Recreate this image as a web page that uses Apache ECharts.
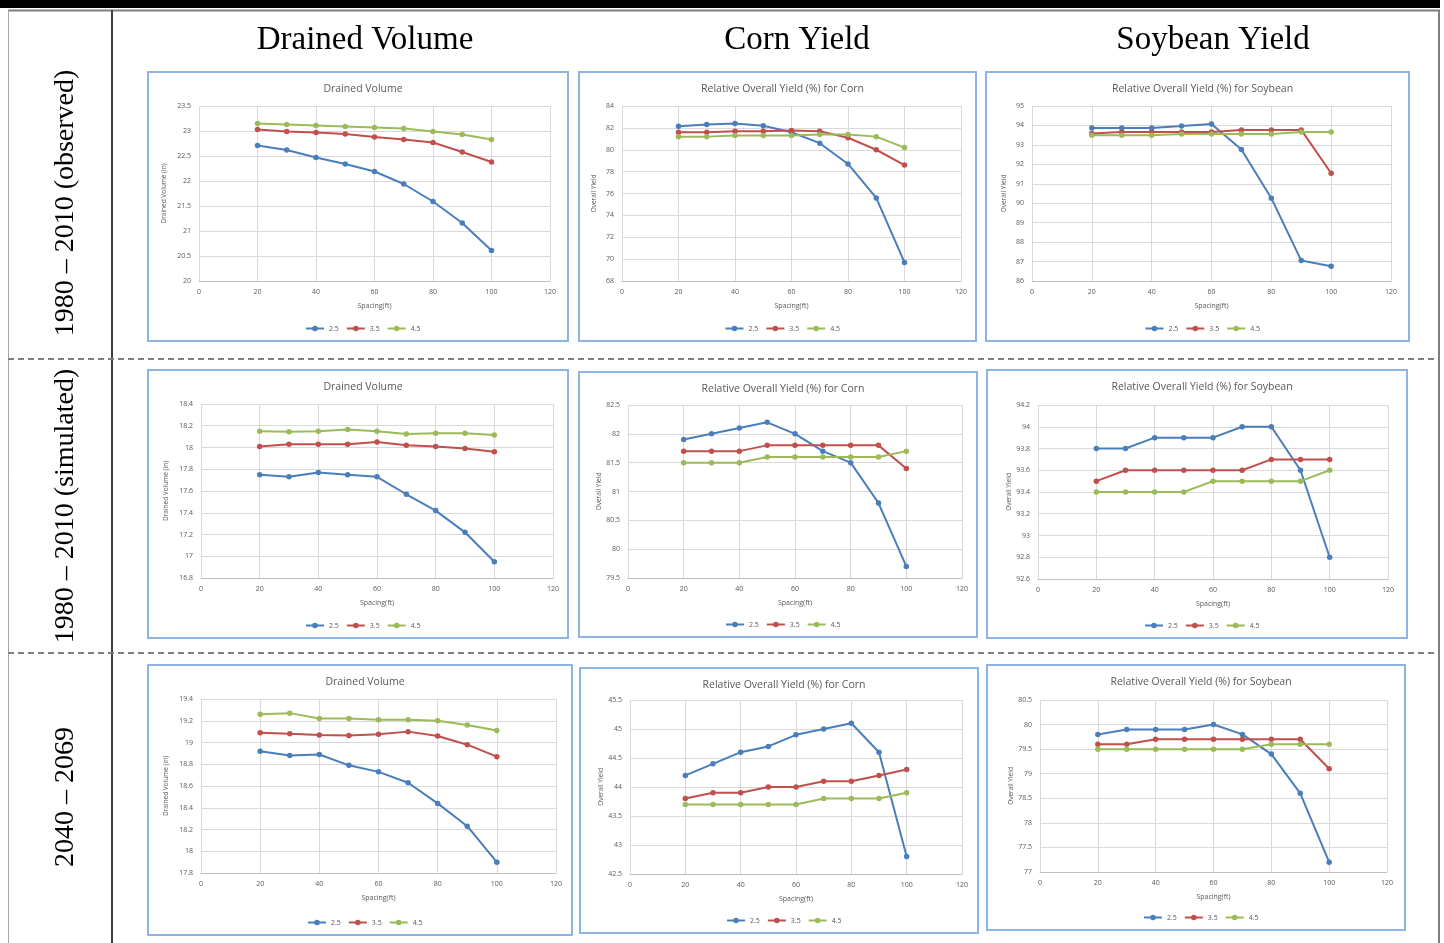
<!DOCTYPE html>
<html>
<head>
<meta charset="utf-8">
<script src="https://cdn.jsdelivr.net/npm/echarts@6/dist/echarts.min.js"></script>
<style>
html,body{margin:0;padding:0;background:#fff;}
#main{width:1444px;height:943px;}
</style>
</head>
<body>
<div id="main"></div>
<script>
// ---------- data ----------
const spacing = [20, 30, 40, 50, 60, 70, 80, 90, 100];
const depthNames = ['2.5', '3.5', '4.5'];
const colHeaders = ['Drained Volume', 'Corn Yield', 'Soybean Yield'];
const rowLabels = ['1980 – 2010 (observed)', '1980 – 2010 (simulated)', '2040 – 2069'];
const panelTitles = ['Drained Volume', 'Relative Overall Yield (%) for Corn', 'Relative Overall Yield (%) for Soybean'];
const yNames = ['Drained Volume (in)', 'Overall Yield', 'Overall Yield'];
const xName = 'Spacing(ft)';

// Row 1: 1980-2010 observed
const obsDrained25 = [22.71, 22.62, 22.47, 22.34, 22.19, 21.94, 21.59, 21.16, 20.61];
const obsDrained35 = [23.03, 22.99, 22.97, 22.94, 22.88, 22.83, 22.77, 22.58, 22.38];
const obsDrained45 = [23.15, 23.13, 23.11, 23.09, 23.07, 23.05, 22.99, 22.93, 22.83];
const obsCorn25 = [82.15, 82.3, 82.4, 82.2, 81.6, 80.6, 78.7, 75.6, 69.7];
const obsCorn35 = [81.6, 81.6, 81.7, 81.7, 81.75, 81.7, 81.1, 80.0, 78.6];
const obsCorn45 = [81.2, 81.2, 81.3, 81.3, 81.3, 81.4, 81.4, 81.2, 80.2];
const obsSoy25 = [93.87, 93.87, 93.87, 93.97, 94.08, 92.76, 90.26, 87.05, 86.76];
const obsSoy35 = [93.58, 93.66, 93.66, 93.66, 93.66, 93.77, 93.77, 93.77, 91.54];
const obsSoy45 = [93.49, 93.49, 93.49, 93.56, 93.56, 93.56, 93.56, 93.66, 93.66];

// Row 2: 1980-2010 simulated
const simDrained25 = [17.75, 17.73, 17.77, 17.75, 17.73, 17.57, 17.42, 17.22, 16.95];
const simDrained35 = [18.01, 18.03, 18.03, 18.03, 18.05, 18.02, 18.01, 17.99, 17.96];
const simDrained45 = [18.15, 18.145, 18.15, 18.165, 18.15, 18.125, 18.13, 18.13, 18.115];
const simCorn25 = [81.9, 82.0, 82.1, 82.2, 82.0, 81.7, 81.5, 80.8, 79.7];
const simCorn35 = [81.7, 81.7, 81.7, 81.8, 81.8, 81.8, 81.8, 81.8, 81.4];
const simCorn45 = [81.5, 81.5, 81.5, 81.6, 81.6, 81.6, 81.6, 81.6, 81.7];
const simSoy25 = [93.8, 93.8, 93.9, 93.9, 93.9, 94.0, 94.0, 93.6, 92.8];
const simSoy35 = [93.5, 93.6, 93.6, 93.6, 93.6, 93.6, 93.7, 93.7, 93.7];
const simSoy45 = [93.4, 93.4, 93.4, 93.4, 93.5, 93.5, 93.5, 93.5, 93.6];

// Row 3: 2040-2069
const futDrained25 = [18.92, 18.88, 18.89, 18.79, 18.73, 18.63, 18.44, 18.23, 17.90];
const futDrained35 = [19.09, 19.08, 19.07, 19.065, 19.075, 19.10, 19.06, 18.98, 18.87];
const futDrained45 = [19.26, 19.27, 19.22, 19.22, 19.21, 19.21, 19.20, 19.16, 19.11];
const futCorn25 = [44.2, 44.4, 44.6, 44.7, 44.9, 45.0, 45.1, 44.6, 42.8];
const futCorn35 = [43.8, 43.9, 43.9, 44.0, 44.0, 44.1, 44.1, 44.2, 44.3];
const futCorn45 = [43.7, 43.7, 43.7, 43.7, 43.7, 43.8, 43.8, 43.8, 43.9];
const futSoy25 = [79.8, 79.9, 79.9, 79.9, 80.0, 79.8, 79.4, 78.6, 77.2];
const futSoy35 = [79.6, 79.6, 79.7, 79.7, 79.7, 79.7, 79.7, 79.7, 79.1];
const futSoy45 = [79.5, 79.5, 79.5, 79.5, 79.5, 79.5, 79.6, 79.6, 79.6];

// y-axis ranges [min, max, interval]
const yRanges = [
  [[20, 23.5, 0.5], [68, 84, 2], [86, 95, 1]],
  [[16.8, 18.4, 0.2], [79.5, 82.5, 0.5], [92.6, 94.2, 0.2]],
  [[17.8, 19.4, 0.2], [42.5, 45.5, 0.5], [77, 80.5, 0.5]]
];
const seriesSets = [
  [[obsDrained25, obsDrained35, obsDrained45], [obsCorn25, obsCorn35, obsCorn45], [obsSoy25, obsSoy35, obsSoy45]],
  [[simDrained25, simDrained35, simDrained45], [simCorn25, simCorn35, simCorn45], [simSoy25, simSoy35, simSoy45]],
  [[futDrained25, futDrained35, futDrained45], [futCorn25, futCorn35, futCorn45], [futSoy25, futSoy35, futSoy45]]
];

// ---------- layout (pixels) ----------
const panelBoxes = [
  [[148, 72, 568, 341], [579, 72, 976, 341], [986, 72, 1409, 341]],
  [[148, 370, 568, 638], [579, 372, 977, 637], [987, 370, 1407, 638]],
  [[148, 665, 572, 935], [580, 668, 978, 933], [987, 665, 1405, 930]]
];
// x0 (value 0), x120, yTop, yBottom
const gridBoxes = [
  [[199, 550, 106, 281], [622, 961, 106, 281], [1032, 1391, 106, 281]],
  [[201, 553, 404, 578], [628, 962, 405, 578], [1038, 1388, 405, 579]],
  [[201, 556, 699, 873], [630, 962, 700, 874], [1040, 1387, 700, 872]]
];
const colors = ['#4a7ebb', '#c0504d', '#9bbb59'];
const txt = '#595959';
const sans = '"Open Sans", "Noto Sans", sans-serif';

const grids = [], xAxes = [], yAxes = [], series = [], titles = [], legends = [], graphics = [];

// frame
graphics.push({type: 'rect', shape: {x: 0, y: 0, width: 1440, height: 8}, style: {fill: '#000'}});
graphics.push({type: 'line', shape: {x1: 8, y1: 10.5, x2: 1440, y2: 10.5}, style: {stroke: '#7f7f7f', lineWidth: 2}});
graphics.push({type: 'line', shape: {x1: 8.5, y1: 10, x2: 8.5, y2: 943}, style: {stroke: '#a6a6a6', lineWidth: 1}});
graphics.push({type: 'line', shape: {x1: 1439, y1: 10, x2: 1439, y2: 943}, style: {stroke: '#7f7f7f', lineWidth: 2}});
graphics.push({type: 'line', shape: {x1: 112, y1: 10, x2: 112, y2: 943}, style: {stroke: '#404040', lineWidth: 2}});
[359, 653].forEach(y => {
  graphics.push({type: 'line', shape: {x1: 8, y1: y, x2: 1438, y2: y}, style: {stroke: '#7f7f7f', lineWidth: 2, lineDash: [6, 4]}});
});
// column headers
const headerX = [365, 797, 1213];
colHeaders.forEach((t, i) => {
  graphics.push({type: 'text', x: headerX[i], y: 40, style: {text: t, font: '33px "Liberation Serif", "DejaVu Serif", serif', fill: '#000', align: 'center', verticalAlign: 'middle'}});
});
// row labels
const rowY = [203, 506, 797];
rowLabels.forEach((t, i) => {
  graphics.push({type: 'text', x: 66, y: rowY[i], rotation: Math.PI / 2, style: {text: t, font: '28px "Liberation Serif", "DejaVu Serif", serif', fill: '#000', align: 'center', verticalAlign: 'middle'}});
});

let gi = 0;
for (let r = 0; r < 3; r++) {
  for (let c = 0; c < 3; c++) {
    const pb = panelBoxes[r][c];
    const gb = gridBoxes[r][c];
    const yr = yRanges[r][c];
    graphics.push({type: 'rect', z: 0, shape: {x: pb[0], y: pb[1], width: pb[2] - pb[0], height: pb[3] - pb[1]}, style: {fill: '#fff', stroke: '#8eb4e3', lineWidth: 2}});
    grids.push({left: gb[0], top: gb[2], width: gb[1] - gb[0], height: gb[3] - gb[2], containLabel: false});
    const cx = (pb[0] + pb[2]) / 2;
    titles.push({text: panelTitles[c], left: cx, top: pb[1] + 7, textAlign: 'center',
      textStyle: {fontSize: 10.5, fontWeight: 'normal', color: txt, fontFamily: sans}});
    xAxes.push({type: 'value', gridIndex: gi, min: 0, max: 120, interval: 20,
      name: xName, nameLocation: 'middle', nameGap: 21,
      nameTextStyle: {fontSize: 7, color: txt, fontFamily: sans},
      axisLine: {show: true, lineStyle: {color: '#bfbfbf', width: 1}},
      axisTick: {show: false},
      axisLabel: {fontSize: 7, color: txt, margin: 7, fontFamily: sans},
      splitLine: {show: true, lineStyle: {color: '#d9d9d9', width: 1}}});
    yAxes.push({type: 'value', gridIndex: gi, min: yr[0], max: yr[1], interval: yr[2],
      name: yNames[c], nameLocation: 'middle', nameGap: c === 0 ? 31 : 24,
      nameTextStyle: {fontSize: 6.5, color: txt, fontFamily: sans},
      axisLine: {show: false}, axisTick: {show: false},
      axisLabel: {fontSize: 7, color: txt, margin: 8, fontFamily: sans},
      splitLine: {show: true, lineStyle: {color: '#d9d9d9', width: 1}}});
    legends.push({data: depthNames, left: cx - 58, top: pb[3] - 21, itemWidth: 18, itemHeight: 7, itemGap: 7,
      textStyle: {fontSize: 7, color: txt, fontFamily: sans}, selectedMode: false});
    seriesSets[r][c].forEach((arr, k) => {
      series.push({type: 'line', name: depthNames[k], xAxisIndex: gi, yAxisIndex: gi,
        data: spacing.map((x, i) => [x, arr[i]]),
        symbol: 'circle', symbolSize: 5.5, color: colors[k],
        lineStyle: {width: 2, color: colors[k]}, itemStyle: {color: colors[k]},
        animation: false, z: 3});
    });
    gi++;
  }
}

const chart = echarts.init(document.getElementById('main'), null, {renderer: 'canvas'});
chart.setOption({
  backgroundColor: '#fff',
  animation: false,
  title: titles,
  grid: grids,
  xAxis: xAxes,
  yAxis: yAxes,
  legend: legends,
  series: series,
  graphic: {elements: graphics.map(g => Object.assign({z: g.z !== undefined ? g.z : -1, silent: true}, g))}
});
</script>
</body>
</html>
